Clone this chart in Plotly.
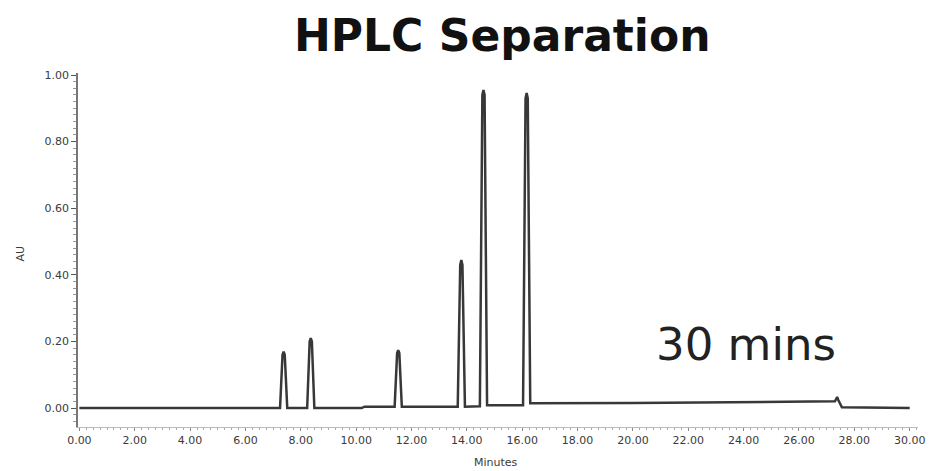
import plotly.graph_objects as go

# Chromatogram trace: retention time (minutes) and absorbance (AU)
time_min = [0.0, 7.25, 7.34, 7.38, 7.42, 7.51,
            8.23, 8.32, 8.36, 8.40, 8.49,
            10.2, 10.3, 11.39, 11.48, 11.52, 11.56, 11.65,
            13.67, 13.76, 13.80, 13.84, 13.93,
            14.47, 14.56, 14.60, 14.64, 14.73,
            16.03, 16.12, 16.16, 16.20, 16.29,
            20.0, 27.3, 27.38, 27.42, 27.55, 30.0]
absorbance = [0.0, 0.0, 0.16, 0.169, 0.16, 0.0,
              0.0, 0.20, 0.21, 0.20, 0.0,
              0.0, 0.004, 0.004, 0.165, 0.174, 0.165, 0.004,
              0.004, 0.43, 0.444, 0.43, 0.004,
              0.005, 0.94, 0.955, 0.94, 0.008,
              0.008, 0.93, 0.946, 0.93, 0.014,
              0.015, 0.02, 0.033, 0.024, 0.002, 0.0]

x_ticks = [0, 2, 4, 6, 8, 10, 12, 14, 16, 18, 20, 22, 24, 26, 28, 30]
x_tick_labels = [f"{v:.2f}" for v in x_ticks]
y_ticks = [0.0, 0.2, 0.4, 0.6, 0.8, 1.0]
y_tick_labels = [f"{v:.2f}" for v in y_ticks]

title_text = "HPLC Separation"
note_text = "30 mins"

fig = go.Figure()
fig.add_trace(go.Scatter(
    x=time_min, y=absorbance, mode="lines",
    line=dict(color="#383838", width=2.5),
    showlegend=False, hoverinfo="skip",
))

fig.update_layout(
    width=932, height=471,
    margin=dict(l=78, r=14, t=73, b=44, autoexpand=False),
    paper_bgcolor="white", plot_bgcolor="white",
    font=dict(family="DejaVu Sans", color="#333333"),
    xaxis=dict(
        range=[-0.05, 30.3], showgrid=False, zeroline=False, automargin=False,
        showline=True, linecolor="#bbbbbb", linewidth=1,
        tickvals=x_ticks, ticktext=x_tick_labels,
        ticks="outside", ticklen=3, tickcolor="#888888",
        tickfont=dict(size=11, color="#3a3a3a"),
        minor=dict(dtick=0.25, ticks="outside", ticklen=2, tickcolor="#aaaaaa"),
    ),
    yaxis=dict(
        range=[-0.057, 1.006], showgrid=False, zeroline=False, automargin=False,
        showline=True, linecolor="#777777", linewidth=1.5,
        tickvals=y_ticks, ticktext=y_tick_labels,
        ticks="outside", ticklen=5, tickcolor="#555555",
        tickfont=dict(size=11, color="#3a3a3a"),
        minor=dict(dtick=0.02, ticks="outside", ticklen=3, tickcolor="#999999"),
    ),
    annotations=[
        dict(text=f"<b>{title_text}</b>", xref="paper", yref="paper",
             x=0.505, y=1.107, xanchor="center", yanchor="middle",
             showarrow=False, font=dict(size=44, color="#111111", family="DejaVu Sans")),
        dict(text=note_text, xref="x", yref="y", x=24.1, y=0.19,
             xanchor="center", yanchor="middle", showarrow=False,
             font=dict(size=45, color="#222222", family="DejaVu Sans")),
        dict(text="Minutes", xref="paper", yref="paper", x=0.498, y=-0.099,
             xanchor="center", yanchor="middle", showarrow=False,
             font=dict(size=11, color="#3a3a3a")),
        dict(text="AU", xref="paper", yref="paper", x=-0.068, y=0.49,
             xanchor="center", yanchor="middle", textangle=-90, showarrow=False,
             font=dict(size=11, color="#3a3a3a")),
    ],
)

fig.write_html(
    "out.html",
    config={"displayModeBar": False},
    post_script="document.body.style.margin='0';document.body.style.overflow='hidden';",
)
